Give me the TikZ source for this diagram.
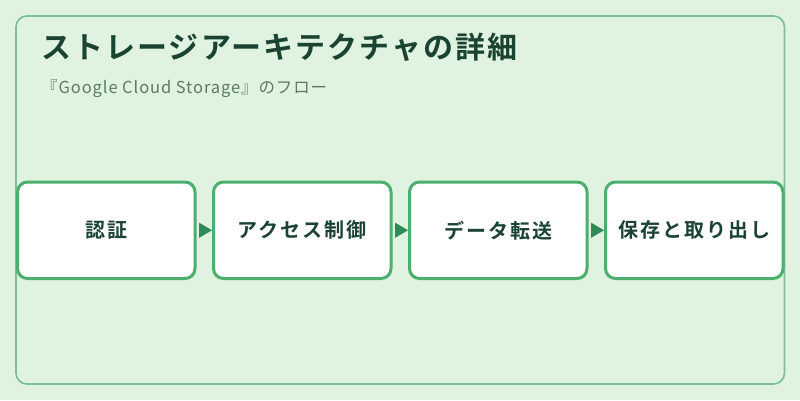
\documentclass[tikz,border=0pt]{standalone}
\usepackage{fontspec}
\setmainfont{Noto Sans CJK JP}
\newfontfamily\titlefont{Noto Sans CJK JP Bold}[LetterSpace=7]
\newfontfamily\stepfont{Noto Sans CJK JP Bold}[LetterSpace=10]
\newfontfamily\subfont{Noto Sans CJK JP}[LetterSpace=5.5]
\usetikzlibrary{arrows.meta,positioning}

\definecolor{bgcol}{HTML}{E0F2E0}
\definecolor{framecol}{HTML}{7FBF95}
\definecolor{boxcol}{HTML}{4CAF6E}
\definecolor{arrowcol}{HTML}{2E8B57}
\definecolor{titlecol}{HTML}{1B4332}
\definecolor{subcol}{HTML}{5B7B67}

\tikzset{
	stepbox/.style={draw=boxcol, fill=white, line width=3pt, rounded corners=10pt,
		minimum width=177.5pt, minimum height=96.5pt, inner sep=0pt,
		text=titlecol, font=\stepfont\fontsize{20pt}{24pt}\selectfont},
	flow/.style={draw=arrowcol, line width=1pt, shorten <=2pt,
		-{Triangle[length=13pt,width=15pt]}, arrowcol}
}

\begin{document}
\begin{tikzpicture}[x=1pt,y=-1pt]
		\useasboundingbox (0,0) rectangle (800,400);
		\fill[bgcol] (0,0) rectangle (800,400);
		\draw[framecol, line width=1.7pt, rounded corners=11pt] (16,16) rectangle (784.5,384);

		\node[anchor=west, inner sep=0pt, text=titlecol, font=\titlefont\fontsize{30pt}{36pt}\selectfont] (title) at (41,47.5) {ストレージアーキテクチャの詳細};
		\node[anchor=west, inner sep=0pt, text=subcol, font=\subfont\fontsize{16.5pt}{20pt}\selectfont] (subtitle) at (41,88.5) {『Google Cloud Storage』のフロー};

		\draw (106.25,230.25) node [stepbox] (auth) {認証};
		\draw (302.25,230.25) node [stepbox] (access) {アクセス制御};
		\draw (498.25,230.25) node [stepbox] (transfer) {データ転送};
		\draw (694.25,230.25) node [stepbox] (store) {保存と取り出し};

		\draw[flow] (auth) -- (access);
		\draw[flow] (access) -- (transfer);
		\draw[flow] (transfer) -- (store);
	\end{tikzpicture}
\end{document}
